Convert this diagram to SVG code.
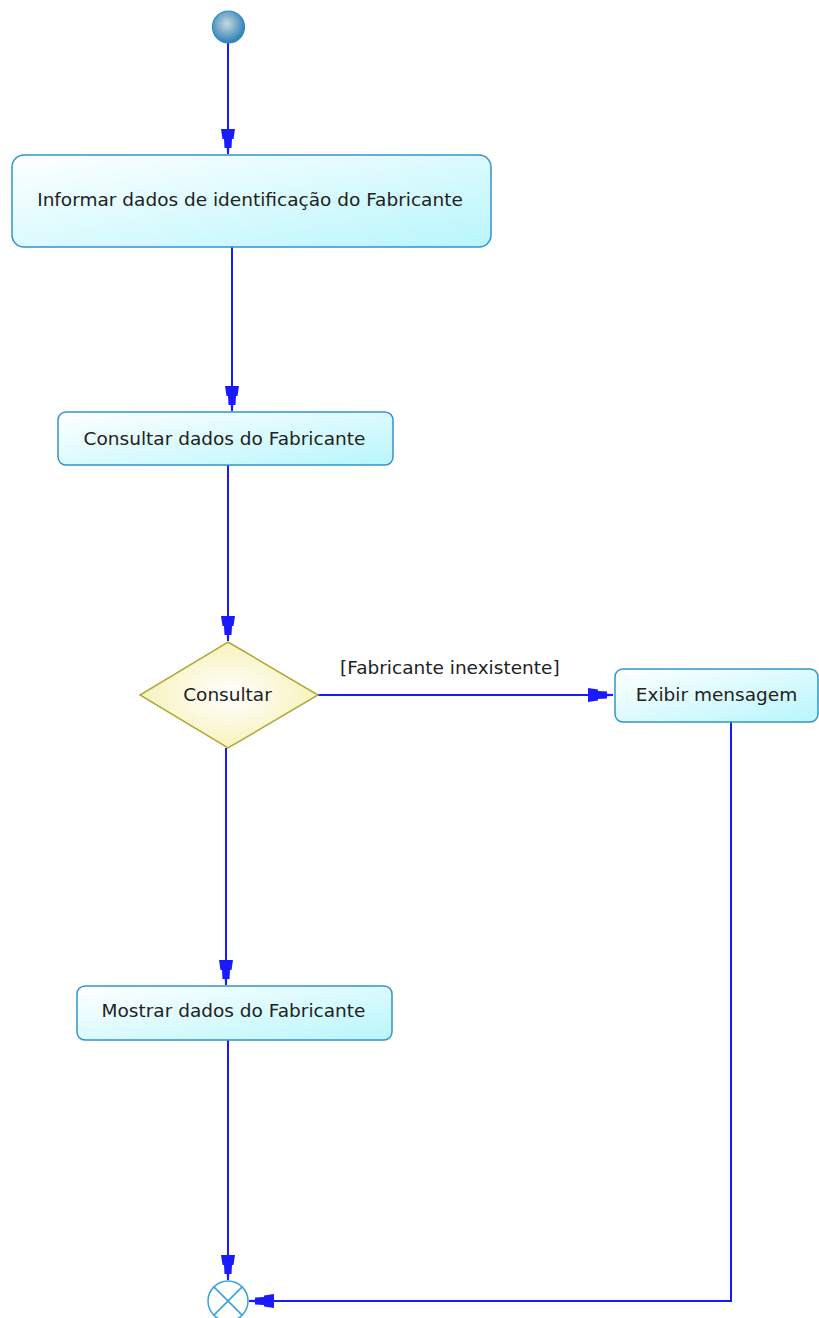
<svg xmlns="http://www.w3.org/2000/svg" width="819" height="1318" viewBox="0 0 819 1318">
<style>
.box{fill:url(#boxGrad);stroke:#3592cc;stroke-width:1.5}
.lbl{font-family:"DejaVu Sans",sans-serif;font-size:18.5px;fill:#222;text-anchor:middle}
.guard{font-family:"DejaVu Sans",sans-serif;font-size:18.5px;fill:#222}
.edge{fill:none;stroke:#1a1aff;stroke-width:2}
</style>
<defs>
<linearGradient id="boxGrad" x1="0" y1="0" x2="1" y2="1">
<stop offset="0" stop-color="#ffffff"/>
<stop offset="1" stop-color="#b8f6fc"/>
</linearGradient>
<radialGradient id="diaGrad" cx="0.5" cy="0.5" r="0.6">
<stop offset="0" stop-color="#ffffff"/>
<stop offset="1" stop-color="#f6f0b0"/>
</radialGradient>
<radialGradient id="startGrad" cx="0.45" cy="0.4" r="0.6">
<stop offset="0" stop-color="#c8d8e0"/>
<stop offset="1" stop-color="#2a7fb4"/>
</radialGradient>
<marker id="arr" markerUnits="userSpaceOnUse" markerWidth="30" markerHeight="18" viewBox="-26 -9 27 18" refX="0" refY="0" orient="auto">
<path d="M-25,-7 L-15,-5.5 L-15,-4 L-6,-3.5 L-6,-1.2 L0,-1 L0,1 L-6,1.2 L-6,3.5 L-15,4 L-15,5.5 L-25,7 Z" fill="#1a1aff"/>
</marker>
</defs>

<g id="connectors">
<path class="edge" d="M228,43 L228,154" marker-end="url(#arr)"/>
<path class="edge" d="M232,247 L232,411" marker-end="url(#arr)"/>
<path class="edge" d="M228,465 L228,641" marker-end="url(#arr)"/>
<path class="edge" d="M318,695 L613,695" marker-end="url(#arr)"/>
<path class="edge" d="M226,748 L226,985" marker-end="url(#arr)"/>
<path class="edge" d="M228,1040 L228,1280" marker-end="url(#arr)"/>
<path class="edge" d="M731,722 L731,1301 L249,1301" marker-end="url(#arr)"/>
<text class="guard" x="340" y="674">[Fabricante inexistente]</text>
</g>

<g id="start">
<circle cx="228.5" cy="27" r="16" fill="url(#startGrad)" stroke="#2a8ac8" stroke-width="1.2"/>
</g>

<g id="informar">
<rect class="box" x="12" y="155" width="479" height="92" rx="12"/>
<text class="lbl" x="250" y="206">Informar dados de identificação do Fabricante</text>
</g>

<g id="consultarDados">
<rect class="box" x="58" y="412" width="335" height="53" rx="8"/>
<text class="lbl" x="224.5" y="445">Consultar dados do Fabricante</text>
</g>

<g id="decisao">
<polygon points="228,642 318,695 228,748 140,695" fill="url(#diaGrad)" stroke="#b0a838" stroke-width="1.5"/>
<text class="lbl" x="227.5" y="701">Consultar</text>
</g>

<g id="exibir">
<rect class="box" x="615" y="669" width="203" height="53" rx="8"/>
<text class="lbl" x="716.5" y="701">Exibir mensagem</text>
</g>

<g id="mostrar">
<rect class="box" x="77" y="986" width="315" height="54" rx="8"/>
<text class="lbl" x="233.5" y="1017">Mostrar dados do Fabricante</text>
</g>

<g id="final">
<circle cx="228" cy="1301" r="20" fill="#ffffff" stroke="#3aa0d8" stroke-width="1.5"/>
<path d="M213.9,1286.9 L242.1,1315.1 M242.1,1286.9 L213.9,1315.1" stroke="#3aa0d8" stroke-width="1.5"/>
</g>
</svg>
